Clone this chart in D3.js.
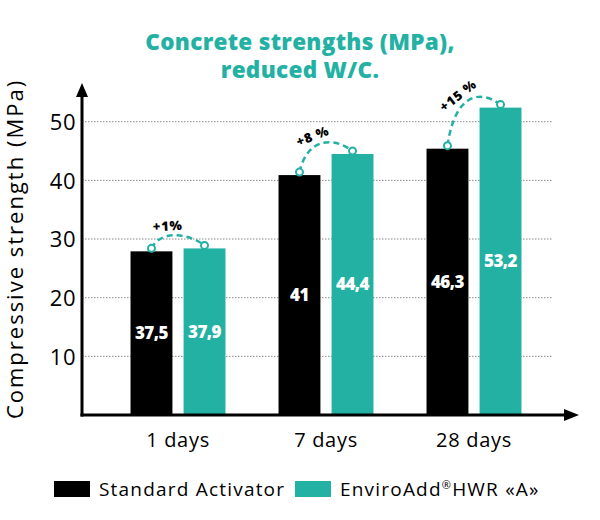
<!DOCTYPE html>
<html>
<head>
<meta charset="utf-8">
<script src="https://cdn.jsdelivr.net/npm/d3@7"></script>
<style>
  html, body { margin: 0; padding: 0; background: #fff; }
  svg { display: block; }
</style>
</head>
<body>
<svg id="chart" width="600" height="520"></svg>
<script>
// ---- data ----
const categories = ["1 days", "7 days", "28 days"];
const seriesNames = ["Standard Activator", "EnviroAdd®HWR «A»"];
const standardValues = [27.9, 40.9, 45.4];      // bar heights as drawn (MPa axis)
const enviroValues = [28.4, 44.5, 52.4];
const standardLabels = ["37,5", "41", "46,3"];  // printed value labels
const enviroLabels = ["37,9", "44,4", "53,2"];
const gainLabels = ["+1%", "+8 %", "+15 %"];
const yTicks = [10, 20, 30, 40, 50];

const TEAL = "#23b1a4";
const svg = d3.select("#chart");
const FONT = "'Open Sans', 'Noto Sans', sans-serif";

const x0 = 82, yBase = 415;
const y = d3.scaleLinear().domain([0, 50]).range([yBase, 121.7]);
const xCat = d3.scaleBand().domain(categories).range([104, 548]).paddingInner(0).paddingOuter(0);
const xSer = d3.scaleBand().domain([0, 1]).range([0, xCat.bandwidth()]).paddingInner(0.21).paddingOuter(0.5);
const seriesValues = [standardValues, enviroValues];
const seriesLabels = [standardLabels, enviroLabels];
const colors = ["#000000", TEAL];

// title
const titleLines = ["Concrete strengths (MPa),", "reduced W/C."];
svg.append("g").selectAll("text").data(titleLines).join("text")
  .attr("x", 300).attr("y", (d, i) => 50 + i * 28).attr("text-anchor", "middle")
  .attr("font-family", FONT).attr("font-weight", 800).attr("font-size", 22.5)
  .attr("letter-spacing", 0.3).attr("fill", TEAL)
  .text(d => d);

// gridlines
svg.append("g").selectAll("line").data(yTicks).join("line")
  .attr("x1", x0).attr("x2", 553)
  .attr("y1", d => y(d)).attr("y2", d => y(d))
  .attr("stroke", "#8a8a8a").attr("stroke-width", 1).attr("stroke-dasharray", "1.5,1.5");

// y axis via d3 axis (labels only)
const yAxis = d3.axisLeft(y).tickValues(yTicks).tickSize(0).tickPadding(0).tickFormat(d3.format("d"));
const gy = svg.append("g").attr("transform", "translate(76,0)").call(yAxis);
gy.select(".domain").remove();
gy.selectAll("text").attr("font-family", FONT).attr("font-size", 22).attr("fill", "#000")
  .attr("dy", "0.35em").attr("letter-spacing", 0.5);

// bars
const groups = svg.append("g").selectAll("g").data(categories).join("g")
  .attr("transform", d => `translate(${xCat(d)},0)`);
[0, 1].forEach(s => {
  groups.append("rect")
    .attr("x", xSer(s)).attr("width", xSer.bandwidth())
    .attr("y", (d, i) => y(seriesValues[s][i]))
    .attr("height", (d, i) => yBase - y(seriesValues[s][i]))
    .attr("fill", colors[s]);
  groups.append("text")
    .attr("x", xSer(s) + xSer.bandwidth() / 2)
    .attr("y", (d, i) => (y(seriesValues[s][i]) + yBase) / 2 + 6)
    .attr("text-anchor", "middle")
    .attr("font-family", FONT).attr("font-weight", 800).attr("font-size", 17)
    .attr("letter-spacing", -0.5)
    .attr("fill", "#fff")
    .text((d, i) => seriesLabels[s][i]);
});

// gain annotations
function bez(p1, c1, c2, p2, t) {
  const u = 1 - t;
  return [u*u*u*p1[0] + 3*u*u*t*c1[0] + 3*u*t*t*c2[0] + t*t*t*p2[0],
          u*u*u*p1[1] + 3*u*u*t*c1[1] + 3*u*t*t*c2[1] + t*t*t*p2[1]];
}
categories.forEach((c, i) => {
  const p1 = [xCat(c) + xSer(0) + xSer.bandwidth() / 2, y(standardValues[i]) - 3];
  const p2 = [xCat(c) + xSer(1) + xSer.bandwidth() / 2, y(enviroValues[i]) - 3];
  const top = Math.min(p1[1], p2[1]);
  const h = 14;
  const dx = p2[0] - p1[0];
  const c1 = [p1[0] + dx * 0.15, top - h], c2 = [p2[0] - dx * 0.35, top - h];
  svg.append("path").attr("d", `M${p1} C${c1} ${c2} ${p2}`).attr("fill", "none")
    .attr("stroke", TEAL).attr("stroke-width", 2.5).attr("stroke-dasharray", "6,4");
  [p1, p2].forEach(p => svg.append("circle").attr("cx", p[0]).attr("cy", p[1]).attr("r", 3.5)
    .attr("fill", "#fff").attr("stroke", TEAL).attr("stroke-width", 2));
  const a = Math.atan2(p2[1] - p1[1], dx);
  const m = bez(p1, c1, c2, p2, 0.4);
  const tx = m[0] + Math.sin(a) * 10, ty = m[1] - Math.cos(a) * 10;
  svg.append("text").attr("transform", `translate(${tx},${ty}) rotate(${a * 180 / Math.PI})`)
    .attr("text-anchor", "middle").attr("dy", "0.35em")
    .attr("font-family", FONT).attr("font-weight", 800).attr("font-size", 13)
    .attr("letter-spacing", 0.8).attr("fill", "#000")
    .text(gainLabels[i]);
});

// axes lines with arrows
svg.append("line").attr("x1", x0).attr("x2", x0).attr("y1", yBase + 1.5).attr("y2", 96)
  .attr("stroke", "#000").attr("stroke-width", 3);
svg.append("path").attr("d", `M${x0 - 6},97 L${x0},83 L${x0 + 6},97 Z`).attr("fill", "#000");
svg.append("line").attr("x1", x0 - 1.5).attr("x2", 565).attr("y1", yBase).attr("y2", yBase)
  .attr("stroke", "#000").attr("stroke-width", 3);
svg.append("path").attr("d", `M564,${yBase - 6} L579,${yBase} L564,${yBase + 6} Z`).attr("fill", "#000");

// x axis labels
const xAxis = d3.axisBottom(xCat).tickSize(0).tickPadding(0);
const gx = svg.append("g").attr("transform", `translate(0,${yBase + 32})`).call(xAxis);
gx.select(".domain").remove();
gx.selectAll("text").attr("font-family", FONT).attr("font-size", 20).attr("fill", "#000")
  .attr("dy", 0).attr("letter-spacing", 0.7);

// y title
svg.append("text").attr("transform", "translate(23,249) rotate(-90)")
  .attr("text-anchor", "middle").attr("font-family", FONT).attr("font-size", 22)
  .attr("letter-spacing", 2).attr("fill", "#000")
  .text("Compressive strength (MPa)");

// legend
const legendItems = [
  { name: seriesNames[0], color: colors[0], x: 54 },
  { name: seriesNames[1], color: colors[1], x: 295 }
];
const lg = svg.append("g").selectAll("g").data(legendItems).join("g")
  .attr("transform", d => `translate(${d.x},481)`);
lg.append("rect").attr("width", 36).attr("height", 16).attr("fill", d => d.color);
lg.append("text").attr("x", 45).attr("y", 15)
  .attr("font-family", FONT).attr("font-size", 19).attr("letter-spacing", 1.2).attr("fill", "#000")
  .each(function (d) {
    const t = d3.select(this);
    const parts = d.name.split("®");
    t.append("tspan").text(parts[0]);
    if (parts.length > 1) {
      t.append("tspan").attr("font-size", 11).attr("dy", -7).text("®");
      t.append("tspan").attr("dy", 7).text(parts[1]);
    }
  });
</script>
</body>
</html>
